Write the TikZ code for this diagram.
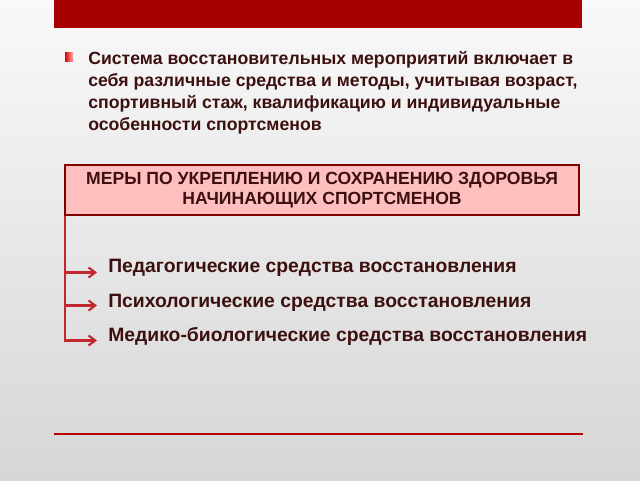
\documentclass[tikz,border=0pt]{standalone}
\usepackage{fontspec}
\setmainfont{Liberation Sans}
\usetikzlibrary{arrows.meta}
\definecolor{barred}{HTML}{A80000}
\definecolor{txtdark}{HTML}{3D1010}
\definecolor{boxfill}{HTML}{FFBFBF}
\definecolor{boxline}{HTML}{800000}
\definecolor{arrred}{HTML}{C0282D}
\definecolor{bglight}{HTML}{F9F9F9}
\definecolor{bgdark}{HTML}{D6D6D6}
\begin{document}
\begin{tikzpicture}[x=0.75pt,y=-0.75pt,
  para/.style={anchor=base west,inner sep=0pt,align=left,text=txtdark,
    font=\fontsize{13.25pt}{16.5pt}\bfseries\selectfont},
  headbox/.style={draw=boxline,line width=1.6pt,fill=boxfill,inner sep=0pt,
    minimum width=514*0.75pt,minimum height=50*0.75pt,align=center,text=txtdark,
    font=\fontsize{13.2pt}{15.5pt}\bfseries\selectfont},
  item/.style={anchor=base west,inner sep=0pt,text=txtdark,
    font=\fontsize{14.5pt}{16pt}\bfseries\selectfont},
  branch/.style={draw=arrred,line width=1.6pt,-{Straight Barb[length=5pt,width=7.5pt,line width=1.6pt]}},
  trunk/.style={draw=arrred,line width=1.6pt}
]
\useasboundingbox (0,0) rectangle (640,480);
\shade[top color=bglight,bottom color=bgdark] (0,0) rectangle (640,480);
% top bar
\fill[barred] (54,0) rectangle (582,28);
% bullet
\shade[left color=red!85!black,right color=red!30] (65,52) rectangle (73,61);
\node[para] (intro) at (88,130) {Система восстановительных мероприятий включает в\\себя различные средства и методы, учитывая возраст,\\спортивный стаж, квалификацию и индивидуальные\\особенности спортсменов};
% box
\node[headbox,anchor=north west] (box) at (64,164) {МЕРЫ ПО УКРЕПЛЕНИЮ И СОХРАНЕНИЮ ЗДОРОВЬЯ\\НАЧИНАЮЩИХ СПОРТСМЕНОВ};
% items
\node[item] (i1) at (108,272.5) {Педагогические средства восстановления};
\node[item] (i2) at (108,307) {Психологические средства восстановления};
\node[item] (i3) at (108,341.5) {Медико-биологические средства восстановления};
\coordinate (t0) at (box.south west);
\coordinate (t1) at ([xshift=1*0.75pt]box.south west |- 0,272.5);
\coordinate (t2) at ([xshift=1*0.75pt]box.south west |- 0,305.5);
\coordinate (t3) at ([xshift=1*0.75pt]box.south west |- 0,340.5);
\draw[trunk] ([xshift=1*0.75pt]t0) -- ([yshift=-1*0.75pt]t3);
\draw[branch] (t1) -- (97,272.5);
\draw[branch] (t2) -- (97,305.5);
\draw[branch] (t3) -- (97,340.5);
% bottom rule
\coordinate (r1) at (54,434);
\coordinate (r2) at (583,434);
\draw[draw=barred!85!red,line width=1.8pt] (r1) -- (r2);
\end{tikzpicture}
\end{document}
